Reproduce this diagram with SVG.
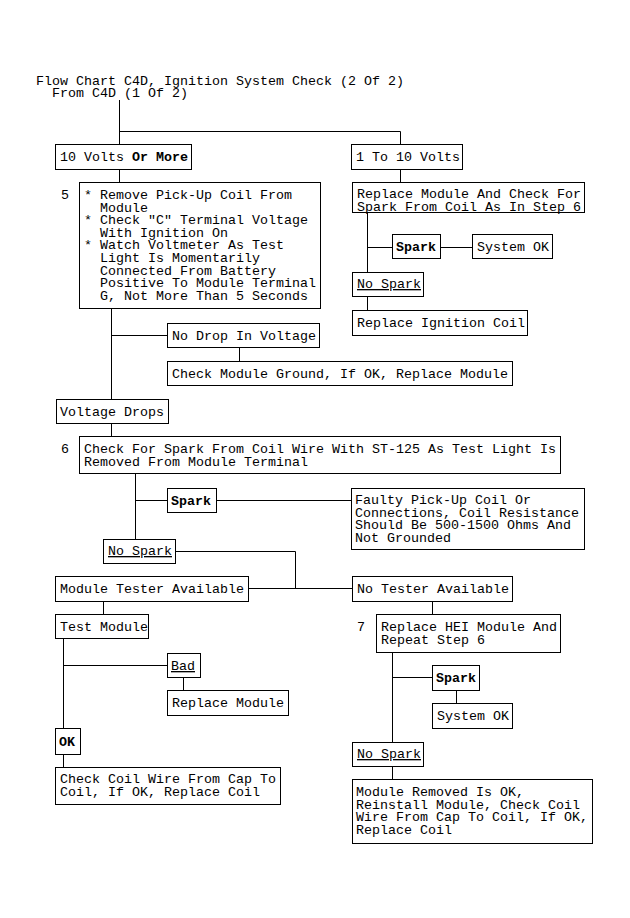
<svg xmlns="http://www.w3.org/2000/svg" width="630" height="918" viewBox="0 0 630 918">
<style>
text{font-family:"Liberation Mono","DejaVu Sans Mono",monospace;font-size:13.33px;fill:#000;white-space:pre}
.b{font-weight:bold}
.u{text-decoration:underline}
rect{fill:#fff;stroke:#000;stroke-width:1}
#connectors path{fill:none;stroke:#000;stroke-width:1}
</style>
<rect x="0" y="0" width="630" height="918" style="stroke:none"/>
<g id="title">
<text x="36" y="85">Flow Chart C4D, Ignition System Check (2 Of 2)</text>
<text x="52" y="97">From C4D (1 Of 2)</text>
</g>
<g id="connectors">
<path d="M119.5 100V145M119.5 131.5H400.5V145"/>
<path d="M119.5 169V182"/>
<path d="M111.5 308V399M111.5 335.5H167"/>
<path d="M239.5 347V361"/>
<path d="M111.5 423V436"/>
<path d="M135.5 473V539M135.5 500.5H167M216 500.5H351"/>
<path d="M175 551.5H295.5V588.5M248 588.5H352"/>
<path d="M103.5 601V614"/>
<path d="M63.5 638V728M63.5 665.5H167"/>
<path d="M183.5 677V690"/>
<path d="M63.5 754V767"/>
<path d="M400.5 169V182"/>
<path d="M367.5 212V272M367.5 247.5H392M440 247.5H472"/>
<path d="M367.5 296V310"/>
<path d="M432.5 601V614"/>
<path d="M392.5 652V742M392.5 677.5H432"/>
<path d="M456.5 690V703"/>
<path d="M392.5 766V779"/>
</g>
<g id="n_10volts"><rect x="55.5" y="144.5" width="136" height="25"/><text x="60" y="161">10 Volts <tspan class="b">Or More</tspan></text></g>
<g id="n_1to10"><rect x="351.5" y="144.5" width="111" height="25"/><text x="356" y="161">1 To 10 Volts</text></g>
<g id="n_step5"><rect x="79.5" y="182.5" width="241" height="126"/>
<text x="61" y="199">5</text>
<text x="84" y="199">* Remove Pick-Up Coil From</text>
<text x="84" y="211.6">  Module</text>
<text x="84" y="224.2">* Check "C" Terminal Voltage</text>
<text x="84" y="236.8">  With Ignition On</text>
<text x="84" y="249.4">* Watch Voltmeter As Test</text>
<text x="84" y="262">  Light Is Momentarily</text>
<text x="84" y="274.6">  Connected From Battery</text>
<text x="84" y="287.2">  Positive To Module Terminal</text>
<text x="84" y="299.8">  G, Not More Than 5 Seconds</text>
</g>
<g id="n_replmod"><rect x="352.5" y="182.5" width="232" height="30"/><text x="357" y="198">Replace Module And Check For</text><text x="357" y="210.5">Spark From Coil As In Step 6</text></g>
<g id="n_spark1"><rect x="392.5" y="234.5" width="48" height="24"/><text class="b" x="396" y="251">Spark</text></g>
<g id="n_sysok1"><rect x="472.5" y="234.5" width="80" height="24"/><text x="477" y="251">System OK</text></g>
<g id="n_nospark1"><rect x="352.5" y="272.5" width="71" height="24"/><text class="u" x="357" y="288">No Spark</text></g>
<g id="n_replcoil"><rect x="352.5" y="310.5" width="175" height="25"/><text x="357" y="327">Replace Ignition Coil</text></g>
<g id="n_nodrop"><rect x="167.5" y="323.5" width="152" height="24"/><text x="172" y="340">No Drop In Voltage</text></g>
<g id="n_ground"><rect x="167.5" y="361.5" width="345" height="24"/><text x="172" y="378">Check Module Ground, If OK, Replace Module</text></g>
<g id="n_vdrops"><rect x="56.5" y="399.5" width="112" height="24"/><text x="60" y="416">Voltage Drops</text></g>
<g id="n_step6"><rect x="79.5" y="436.5" width="481" height="37"/>
<text x="61" y="453">6</text>
<text x="84" y="453">Check For Spark From Coil Wire With ST-125 As Test Light Is</text>
<text x="84" y="466">Removed From Module Terminal</text></g>
<g id="n_spark2"><rect x="167.5" y="488.5" width="49" height="24"/><text class="b" x="171" y="505">Spark</text></g>
<g id="n_faulty"><rect x="351.5" y="488.5" width="233" height="61"/>
<text x="355" y="504">Faulty Pick-Up Coil Or</text>
<text x="355" y="516.5">Connections, Coil Resistance</text>
<text x="355" y="529">Should Be 500-1500 Ohms And</text>
<text x="355" y="541.5">Not Grounded</text></g>
<g id="n_nospark2"><rect x="103.5" y="539.5" width="72" height="24"/><text class="u" x="108" y="555">No Spark</text></g>
<g id="n_tester"><rect x="55.5" y="576.5" width="193" height="25"/><text x="60" y="593">Module Tester Available</text></g>
<g id="n_notester"><rect x="352.5" y="576.5" width="160" height="25"/><text x="357" y="593">No Tester Available</text></g>
<g id="n_testmod"><rect x="55.5" y="614.5" width="93" height="24"/><text x="60" y="631">Test Module</text></g>
<g id="n_step7"><rect x="376.5" y="614.5" width="184" height="38"/>
<text x="357" y="631">7</text>
<text x="381" y="631">Replace HEI Module And</text>
<text x="381" y="643.5">Repeat Step 6</text></g>
<g id="n_bad"><rect x="167.5" y="653.5" width="33" height="24"/><text class="u" x="171" y="670">Bad</text></g>
<g id="n_replmod2"><rect x="167.5" y="690.5" width="121" height="25"/><text x="172" y="707">Replace Module</text></g>
<g id="n_ok"><rect x="55.5" y="728.5" width="25" height="26"/><text class="b" x="59" y="746">OK</text></g>
<g id="n_checkcoil"><rect x="55.5" y="767.5" width="225" height="37"/>
<text x="60" y="783">Check Coil Wire From Cap To</text>
<text x="60" y="796">Coil, If OK, Replace Coil</text></g>
<g id="n_spark3"><rect x="432.5" y="665.5" width="47" height="25"/><text class="b" x="436" y="682">Spark</text></g>
<g id="n_sysok2"><rect x="432.5" y="703.5" width="80" height="25"/><text x="437" y="720">System OK</text></g>
<g id="n_nospark3"><rect x="352.5" y="742.5" width="71" height="24"/><text class="u" x="357" y="758">No Spark</text></g>
<g id="n_removed"><rect x="352.5" y="779.5" width="240" height="64"/>
<text x="356" y="796">Module Removed Is OK,</text>
<text x="356" y="808.5">Reinstall Module, Check Coil</text>
<text x="356" y="821">Wire From Cap To Coil, If OK,</text>
<text x="356" y="833.5">Replace Coil</text></g>
</svg>
